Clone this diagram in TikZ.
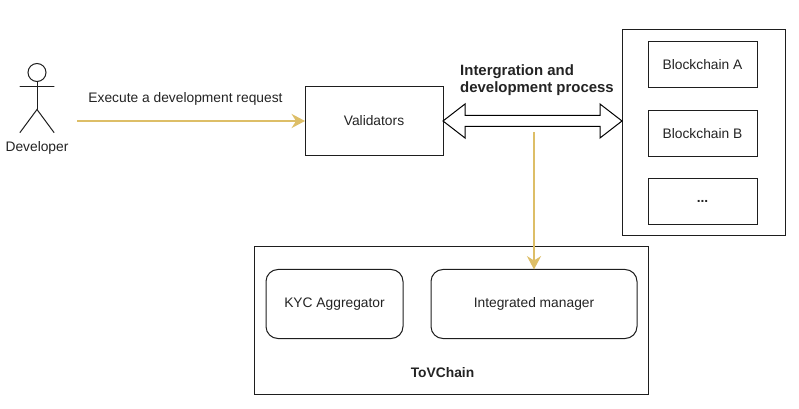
\documentclass[tikz,border=0pt]{standalone}
\usepackage{fontspec}
\setmainfont{Liberation Sans}
\usepackage{tikz}
\usetikzlibrary{arrows.meta,positioning}
\definecolor{softGold}{RGB}{221,190,103}
\definecolor{lineInk}{RGB}{30,30,30}
\definecolor{textInk}{RGB}{35,35,35}
\tikzset{
  box/.style={draw=lineInk, line width=0.75pt, outer sep=0pt, align=center, text=textInk, font=\fontsize{10.35}{12}\selectfont},
  chainbox/.style={box, minimum width=81.75pt, minimum height=34.5pt},
  roundbox/.style={box, rounded corners=9pt, minimum height=51.75pt},
  plaintext/.style={align=center, text=textInk, font=\fontsize{10.35}{12}\selectfont},
  boldtext/.style={plaintext, font=\fontsize{10.35}{12.75}\selectfont\bfseries},
  goldflow/.style={-{Stealth[length=10pt, width=10.5pt]}, line width=1.7pt, draw=softGold},
  figure/.style={draw=lineInk, line width=0.75pt, line cap=round}
}
\begin{document}
\begin{tikzpicture}[x=0.75pt, y=-0.75pt]
        \useasboundingbox (0,-0.5) rectangle (799,408.5);
        % top row
        \node[box, minimum width=103.5pt, minimum height=51.75pt] (val) at (374,120.5) {Validators};
        \node[box, minimum width=122.25pt, minimum height=154.5pt] (chains) at (703.5,132) {};
        \node[chainbox] (chainA) at (702.5,64) {Blockchain A};
        \node[chainbox, below=17.25pt of chainA] (chainB) {Blockchain B};
        \node[chainbox, below=16.5pt of chainB] (chainC) {\textbf{...}};
        % bottom group
        \node[box, minimum width=295.5pt, minimum height=111pt] (tov) at (451,320) {};
        \node[roundbox, minimum width=102.75pt] (kyc) at (334.5,303.5) {KYC Aggregator};
        \node[roundbox, minimum width=154.5pt] (mgr) at (534,303.5) {Integrated manager};
        \node[boldtext] (tovlabel) at (442.5,372) {ToVChain};
        % developer
        \node[circle, draw=lineInk, line width=0.75pt, minimum size=13.5pt, inner sep=0pt, outer sep=0pt] (head) at (37,72) {};
        \coordinate (hip) at (37,109);
        \coordinate (armL) at (20,86);
        \coordinate (armR) at (54,86);
        \coordinate (footL) at (20,132);
        \coordinate (footR) at (54,132);
        \draw[figure] (head) -- (hip);
        \draw[figure] (armL) -- (armR);
        \draw[figure] (footL) -- (hip) -- (footR);
        \node[plaintext] (dev) at (37,147.5) {Developer};
        % labels
        \node[plaintext] (execlabel) at (185.5,98.5) {Execute a development request};
        \node[boldtext, align=left, font=\fontsize{11.2}{12.75}\selectfont\bfseries] (intlabel) at (537,79.5) {Intergration and\\development process};
        % connectors
        \coordinate (reqstart) at (77,120.5);
        \coordinate (mgrstart) at (534,132);
        \draw[goldflow] (reqstart) -- (val.west);
        \draw[goldflow] (mgrstart) -- (mgr.north);
        \draw[draw=black, line width=0.75pt, fill=white, line join=miter]
          (val.east) -- ++(22,-17) -- ++(0,11.5) -- ++(135,0) -- ++(0,-11.5)
          -- (val.east -| chains.west) -- ++(-22,17) -- ++(0,-11.5) -- ++(-135,0) -- ++(0,11.5) -- cycle;
      \end{tikzpicture}
\end{document}
